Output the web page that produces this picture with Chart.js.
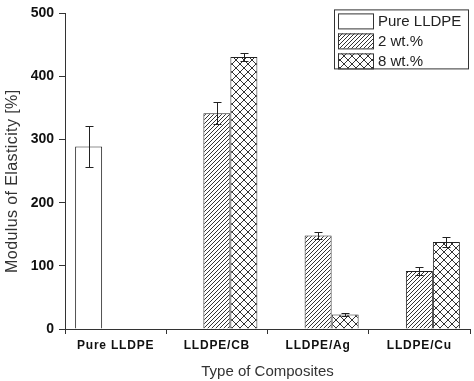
<!DOCTYPE html>
<html>
<head>
<meta charset="utf-8">
<script src="https://cdn.jsdelivr.net/npm/chart.js@4"></script>
<style>
  html, body { margin: 0; padding: 0; background: #fff; }
  #wrap { width: 474px; height: 381px; position: relative; }
</style>
</head>
<body>
<div id="wrap"><canvas id="c" width="474" height="381"></canvas></div>
<script>
// ---- data ----
const categories = ['Pure LLDPE', 'LLDPE/CB', 'LLDPE/Ag', 'LLDPE/Cu'];
const pureValues = [289, null, null, null];
const pureErrors = [33, null, null, null];
const wt2Values = [null, 342, 148, 92];
const wt2Errors = [null, 18, 5, 7];
const wt8Values = [null, 431, 23, 138];
const wt8Errors = [null, 6, 2, 8];
const seriesLabels = ['Pure LLDPE', '2 wt.%', '8 wt.%'];
const yTicks = [0, 100, 200, 300, 400, 500];

const FONT = "'Liberation Sans', Arial, sans-serif";

function makeHatch() {
  const s = 4;
  const c = document.createElement('canvas');
  c.width = s; c.height = s;
  const g = c.getContext('2d');
  g.fillStyle = '#fff'; g.fillRect(0, 0, s, s);
  g.strokeStyle = '#333'; g.lineWidth = 1;
  g.beginPath();
  g.moveTo(-1, s + 1); g.lineTo(s + 1, -1);
  g.moveTo(-1, 1); g.lineTo(1, -1);
  g.moveTo(s - 1, s + 1); g.lineTo(s + 1, s - 1);
  g.stroke();
  return g.createPattern(c, 'repeat');
}
function makeCross() {
  const s = 8;
  const c = document.createElement('canvas');
  c.width = s; c.height = s;
  const g = c.getContext('2d');
  g.fillStyle = '#fff'; g.fillRect(0, 0, s, s);
  g.strokeStyle = '#333'; g.lineWidth = 1;
  g.beginPath();
  g.moveTo(0, 0); g.lineTo(s, s);
  g.moveTo(0, s); g.lineTo(s, 0);
  g.stroke();
  return g.createPattern(c, 'repeat');
}
const hatch = makeHatch();
const cross = makeCross();

const errorArrays = [pureErrors, wt2Errors, wt8Errors];

const errorBarPlugin = {
  id: 'errorBars',
  afterDatasetsDraw(chart) {
    const ctx = chart.ctx;
    const y = chart.scales.y;
    ctx.save();
    ctx.strokeStyle = '#222';
    ctx.lineWidth = 1;
    chart.data.datasets.forEach((ds, di) => {
      const meta = chart.getDatasetMeta(di);
      meta.data.forEach((el, i) => {
        const v = ds.data[i];
        const e = errorArrays[di][i];
        if (v == null || e == null) return;
        const x = Math.round(el.x) + 0.5;
        const yt = Math.round(y.getPixelForValue(v + e)) + 0.5;
        const yb = Math.round(y.getPixelForValue(v - e)) + 0.5;
        ctx.beginPath();
        ctx.moveTo(x, yt); ctx.lineTo(x, yb);
        ctx.moveTo(x - 4, yt); ctx.lineTo(x + 4, yt);
        ctx.moveTo(x - 4, yb); ctx.lineTo(x + 4, yb);
        ctx.stroke();
      });
    });
    ctx.restore();
  }
};

const legendPlugin = {
  id: 'boxLegend',
  afterDraw(chart) {
    const ctx = chart.ctx;
    const a = chart.chartArea;
    const bx = a.right - 136, by = a.top - 4, bw = 134, bh = 59;
    ctx.save();
    ctx.fillStyle = '#fff';
    ctx.fillRect(bx, by, bw, bh);
    ctx.strokeStyle = '#333';
    ctx.lineWidth = 1;
    ctx.strokeRect(bx + 0.5, by + 0.5, bw, bh);
    ctx.font = '15px ' + FONT;
    ctx.textBaseline = 'middle';
    chart.data.datasets.forEach((ds, i) => {
      const sy = by + 4 + i * 20;
      ctx.fillStyle = ds.backgroundColor;
      ctx.fillRect(bx + 4, sy, 35, 15);
      ctx.strokeStyle = '#333';
      ctx.strokeRect(bx + 4.5, sy + 0.5, 35, 15);
      ctx.fillStyle = '#222';
      ctx.fillText(ds.label, bx + 44, sy + 8.5);
    });
    ctx.restore();
  }
};

// letter spacing on x tick labels and the y title, as in the reference
const spacingPatch = {
  id: 'spacingPatch',
  afterLayout(chart) {
    const sx = chart.scales.x, sy = chart.scales.y;
    if (!sx._patched) {
      const orig = sx.drawLabels.bind(sx);
      sx.drawLabels = function (ca) {
        const ctx = this.ctx;
        ctx.save();
        ctx.letterSpacing = '0.8px';
        orig(ca);
        ctx.restore();
      };
      sx._patched = true;
    }
    if (!sy._patched) {
      const origT = sy.drawTitle.bind(sy);
      sy.drawTitle = function () {
        const ctx = this.ctx;
        ctx.save();
        ctx.letterSpacing = '0.4px';
        ctx.translate(0, 10);
        origT();
        ctx.restore();
      };
      sy._patched = true;
    }
  }
};

new Chart(document.getElementById('c'), {
  type: 'bar',
  data: {
    labels: categories,
    datasets: [
      { label: seriesLabels[0], data: pureValues, backgroundColor: '#fff', borderColor: '#222', borderWidth: 1 },
      { label: seriesLabels[1], data: wt2Values, backgroundColor: hatch, borderColor: '#222', borderWidth: 1 },
      { label: seriesLabels[2], data: wt8Values, backgroundColor: cross, borderColor: '#222', borderWidth: 1 }
    ]
  },
  options: {
    responsive: false,
    animation: false,
    devicePixelRatio: 1,
    layout: { padding: { left: 0, right: 4, top: 12, bottom: 0 } },
    datasets: { bar: { categoryPercentage: 0.8, barPercentage: 1.0 } },
    plugins: {
      legend: { display: false },
      tooltip: { enabled: false }
    },
    scales: {
      x: {
        grid: { display: true, drawOnChartArea: false, drawTicks: true, tickLength: 5, color: '#333' },
        border: { display: true, color: '#333', width: 1 },
        ticks: { color: '#111', font: { family: FONT, size: 12, weight: 'bold' }, padding: 4 },
        title: { display: true, text: 'Type of Composites', color: '#333', font: { family: FONT, size: 15 }, padding: { top: 7, bottom: 0 } },
        afterFit(s) { s.height = 52; }
      },
      y: {
        min: 0, max: 500,
        afterBuildTicks(s) { s.ticks = yTicks.map(v => ({ value: v })); },
        grid: { display: true, drawOnChartArea: false, drawTicks: true, tickLength: 6, color: '#333' },
        border: { display: true, color: '#333', width: 1 },
        ticks: { color: '#111', font: { family: FONT, size: 14, weight: 'bold' }, padding: 5 },
        title: { display: true, text: 'Modulus of Elasticity [%]', color: '#333', font: { family: FONT, size: 16 }, padding: { top: 3, bottom: 4 } },
        afterFit(s) { s.width = 65; }
      }
    }
  },
  plugins: [errorBarPlugin, legendPlugin, spacingPatch]
});
</script>
</body>
</html>
